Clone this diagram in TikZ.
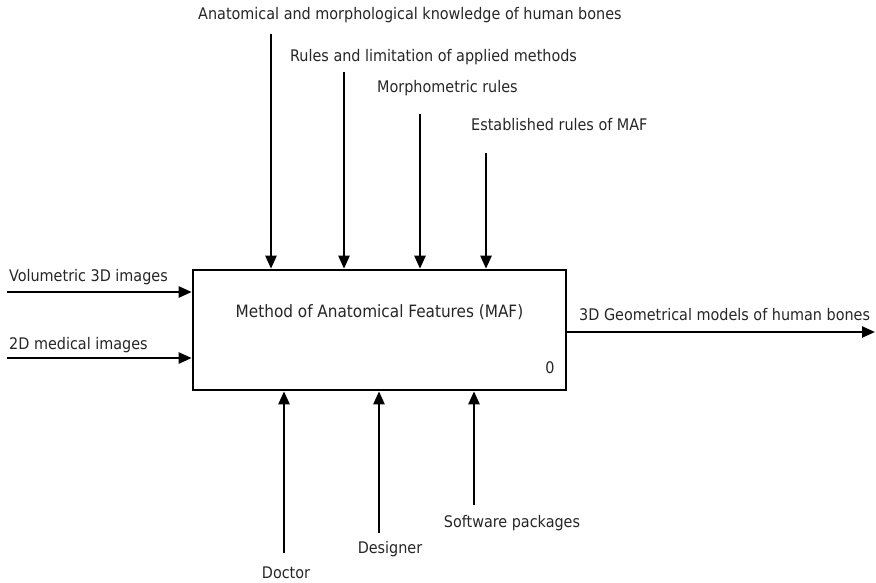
\documentclass[tikz,border=0pt]{standalone}
\usepackage{fontspec}
\setmainfont{DejaVu Sans Condensed}
\usepackage{tikz}
\usetikzlibrary{
  arrows.meta,
  positioning,
  calc
}

\begin{document}
\begin{tikzpicture}[
  x=1pt, y=-1pt,
  funcbox/.style={
    rectangle,
    draw=black,
    fill=white,
    line width=2.6pt,
    minimum width=373pt,
    minimum height=120pt,
    inner sep=0pt,
  },
  lbl/.style={
    font=\fontsize{16}{18}\selectfont,
    text=black!85,
    inner sep=0pt,
  },
  arrow/.style={-{Triangle[length=13pt,width=11pt]}, line width=2.4pt, black},
]
\useasboundingbox (0,0) rectangle (876,582);

% ── Function box ──
\node[funcbox] (maf) at (379.5, 330) {};
\node[lbl, font=\fontsize{17}{19}\selectfont] (maftitle) at (379.5, 312) {Method of Anatomical Features (MAF)};
\node[lbl] (mafnum) at (550, 368) {0};

% ── Controls (top) ──
\node[lbl] (ctrlA) at (410, 15) {Anatomical and morphological knowledge of human bones};
\node[lbl, anchor=west] (ctrlB) at (290, 57) {Rules and limitation of applied methods};
\node[lbl, anchor=west] (ctrlC) at (377, 88) {Morphometric rules};
\node[lbl, anchor=west] (ctrlD) at (471, 125) {Established rules of MAF};

\coordinate (topA) at (271, 34);
\coordinate (topB) at (344, 72);
\coordinate (topC) at (420, 114);
\coordinate (topD) at (486, 153);

\draw[arrow] (topA) -- (topA |- maf.north);
\draw[arrow] (topB) -- (topB |- maf.north);
\draw[arrow] (topC) -- (topC |- maf.north);
\draw[arrow] (topD) -- (topD |- maf.north);

% ── Inputs (left) ──
\node[lbl, anchor=west] (inA) at (9, 277) {Volumetric 3D images};
\node[lbl, anchor=west] (inB) at (9, 345) {2D medical images};

\coordinate (leftA) at (7, 292);
\coordinate (leftB) at (7, 358);

\draw[arrow] (leftA) -- (leftA -| maf.west);
\draw[arrow] (leftB) -- (leftB -| maf.west);

% ── Output (right) ──
\node[lbl, anchor=west] (outA) at (579, 315) {3D Geometrical models of human bones};
\coordinate (rightA) at (875, 332);
\draw[arrow] (rightA -| maf.east) -- (rightA);

% ── Mechanisms (bottom) ──
\node[lbl] (mechA) at (286, 573) {Doctor};
\node[lbl] (mechB) at (390, 549) {Designer};
\node[lbl] (mechC) at (512, 523) {Software packages};

\coordinate (botA) at (284, 553);
\coordinate (botB) at (379, 533);
\coordinate (botC) at (474, 505);

\draw[arrow] (botA) -- (botA |- maf.south);
\draw[arrow] (botB) -- (botB |- maf.south);
\draw[arrow] (botC) -- (botC |- maf.south);

\end{tikzpicture}
\end{document}
